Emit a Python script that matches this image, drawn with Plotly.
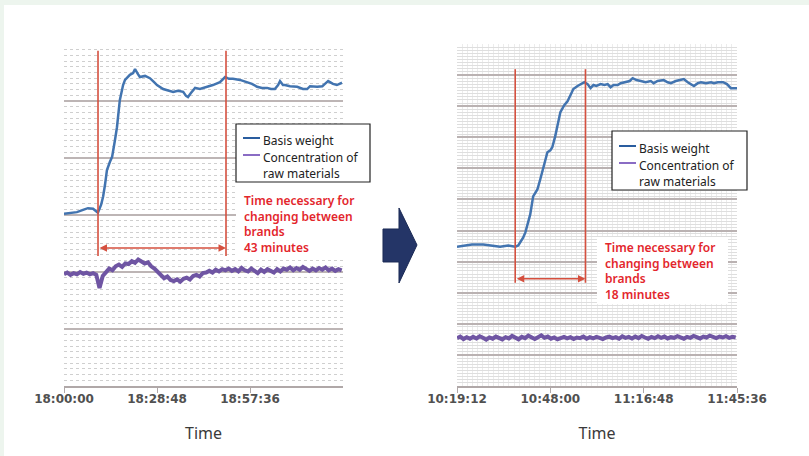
import pandas as pd
import plotly.graph_objects as go

W, H = 809, 456

# --- data ---
# left chart: start 18:00:00, x in minutes after start
left_bw_min = [0.0, 1.9, 4.0, 5.9, 7.4, 9.0, 10.5, 11.5, 12.1, 12.7, 13.3, 14.2, 14.9, 15.8, 16.4,
               17.3, 18.3, 18.9, 20.4, 21.4, 22.0, 22.9, 23.5, 25.1, 26.6, 27.9, 28.8, 30.7, 32.2,
               33.8, 35.3, 36.9, 37.8, 38.4, 39.3, 40.6, 42.1, 44.3, 45.5, 46.1, 48.3, 49.9, 51.1,
               52.3, 54.5, 56.7, 58.2, 59.8, 61.3, 62.9, 64.1, 65.3, 66.3, 66.9, 67.8, 68.4, 70.0,
               72.2, 74.0, 75.3, 76.2, 78.4, 80.0, 80.8, 81.8, 83.3, 84.5, 86.1]
left_bw = [30.2, 30.4, 30.5, 30.9, 31.2, 31.1, 30.4, 31.8, 33.2, 35.3, 37.9, 39.3, 40.2, 43.2, 45.4,
           50.2, 52.8, 53.7, 54.6, 54.9, 55.6, 54.7, 54.2, 54.4, 54.0, 53.3, 52.8, 52.1, 51.8,
           51.6, 51.8, 51.6, 50.9, 50.7, 51.4, 52.3, 52.1, 52.5, 52.6, 52.8, 53.3, 54.2, 53.9,
           53.9, 53.7, 53.3, 53.0, 52.5, 52.3, 52.3, 52.1, 52.1, 52.8, 53.5, 52.8, 52.8, 52.6,
           52.5, 52.1, 52.1, 52.6, 52.5, 52.6, 53.0, 53.5, 53.0, 52.8, 53.2]
# concentration, one value per minute
left_conc = [19.6, 19.9, 19.5, 19.8, 19.6, 20.0, 19.7, 19.9, 19.6, 19.8, 19.5, 17.2, 19.3, 19.9,
             20.6, 20.3, 21.0, 21.3, 20.9, 21.5, 21.4, 21.9, 21.6, 22.2, 21.8, 21.5, 21.7, 21.0,
             20.6, 20.1, 19.4, 18.9, 19.2, 18.6, 18.4, 18.7, 18.3, 18.8, 19.0, 18.7, 19.3, 19.5,
             19.2, 19.8, 19.9, 20.2, 19.9, 20.4, 20.1, 20.5, 20.3, 20.6, 20.2, 20.5, 20.1, 20.7,
             20.3, 20.1, 20.6, 20.2, 19.8, 20.4, 20.0, 20.5, 20.2, 19.9, 20.5, 20.1, 20.6, 20.4,
             20.8, 20.3, 20.7, 20.4, 20.9, 20.5, 20.2, 20.6, 20.3, 20.7, 20.4, 20.8, 20.3, 20.6,
             20.2, 20.5, 20.3]

# right chart: start 10:19:12
right_bw_min = [0.0, 2.5, 4.6, 8.1, 10.2, 13.3, 15.8, 18.0, 18.9, 19.5, 20.4, 21.1, 22.0, 22.6,
                23.5, 24.8, 25.7, 26.3, 27.3, 27.9, 28.8, 29.4, 30.3, 31.3, 31.9, 33.1, 34.1, 35.0,
                35.9, 37.2, 38.1, 39.3, 40.3, 41.2, 42.1, 43.0, 44.3, 45.5, 46.5, 47.4, 48.3, 49.6,
                50.5, 52.0, 53.3, 54.2, 55.4, 56.7, 58.2, 59.8, 60.7, 61.9, 63.8, 65.0, 66.0, 67.5,
                69.1, 70.0, 71.2, 72.2, 73.1, 74.3, 75.3, 76.8, 78.4, 79.3, 80.5, 82.1, 83.3, 84.5,
                85.5, 86.4]
right_bw = [44.8, 45.2, 45.5, 45.5, 45.2, 44.8, 45.2, 44.8, 45.2, 46.1, 47.7, 49.4, 52.9, 55.2,
            61.0, 63.2, 66.5, 68.7, 72.3, 75.2, 75.8, 76.8, 80.3, 85.2, 88.1, 90.3, 91.6, 93.5,
            95.5, 96.5, 97.1, 97.7, 97.1, 95.8, 96.8, 96.5, 97.1, 96.8, 97.1, 96.1, 96.8, 96.8,
            97.4, 97.7, 98.1, 99.0, 98.4, 98.1, 97.7, 98.1, 97.4, 98.1, 98.4, 97.7, 97.4, 98.1,
            98.4, 98.7, 97.7, 97.1, 96.5, 97.4, 97.7, 97.4, 97.7, 97.4, 97.7, 97.7, 97.1, 95.8,
            95.8, 95.8]
right_conc = [15.4, 15.9, 15.1, 15.7, 15.2, 15.8, 15.3, 16.0, 15.5, 14.9, 15.6, 15.2, 15.9, 15.4,
              15.0, 15.7, 15.3, 16.1, 15.5, 15.0, 15.8, 15.4, 16.2, 15.6, 15.1, 15.7, 16.3, 15.5,
              15.9, 15.2, 15.6, 15.0, 15.5, 15.8, 15.3, 15.7, 15.1, 15.6, 15.4, 15.9, 15.2, 15.7,
              15.3, 15.8, 15.5, 15.1, 15.6, 15.9, 15.4, 15.7, 15.2, 16.0, 15.5, 15.8, 15.3, 15.9,
              15.4, 16.1, 15.6, 15.2, 15.8, 15.4, 16.0, 15.5, 15.9, 15.3, 15.7, 15.5, 16.0, 15.6,
              15.2, 15.8, 15.5, 16.1, 15.7, 15.3, 15.9, 15.6, 16.2, 15.7, 15.4, 15.9, 15.6, 16.0,
              15.5, 15.8, 15.6]

left_ticks = ["18:00:00", "18:28:48", "18:57:36"]
right_ticks = ["10:19:12", "10:48:00", "11:16:48", "11:45:36"]
left_change = ["18:10:32", "18:50:10"]   # red markers
right_change = ["10:37:10", "10:58:50"]
left_text = "Time necessary for<br>changing between<br>brands<br>43 minutes"
right_text = "Time necessary for<br>changing between<br>brands<br>18 minutes"

DAY = "2024-01-01 "


def tms(start, mins):
    return pd.Timestamp(DAY + start) + pd.to_timedelta(mins, unit="min")


def px(x):
    return x / W


def py(y):
    return 1 - y / H


BLUE = "#4274b0"
PURPLE = "#6f55a3"
RED = "#d5503f"
TXTRED = "#e3262c"

fig = go.Figure()
fig.add_trace(go.Scatter(x=tms("18:00:00", left_bw_min), y=left_bw, mode="lines",
                         line=dict(color=BLUE, width=2.5), xaxis="x", yaxis="y"))
fig.add_trace(go.Scatter(x=tms("18:00:00", list(range(len(left_conc)))), y=left_conc, mode="lines",
                         line=dict(color=PURPLE, width=4), xaxis="x", yaxis="y"))
fig.add_trace(go.Scatter(x=tms("10:19:12", right_bw_min), y=right_bw, mode="lines",
                         line=dict(color=BLUE, width=2.5), xaxis="x2", yaxis="y2"))
fig.add_trace(go.Scatter(x=tms("10:19:12", list(range(len(right_conc)))), y=right_conc, mode="lines",
                         line=dict(color=PURPLE, width=4), xaxis="x2", yaxis="y2"))

tickfont = dict(family="DejaVu Sans", size=12, color="#505050", weight="bold")
titlefont = dict(family="Noto Sans", size=16, color="#3a3a3a")

fig.update_layout(
    width=W, height=H, margin=dict(l=0, r=0, t=0, b=0, autoexpand=False),
    paper_bgcolor="#edf5ee", plot_bgcolor="white", showlegend=False,
    xaxis=dict(domain=[px(64), px(343)], type="date", automargin=False,
               range=[DAY + "18:00:00", DAY + "19:26:24"],
               tickvals=[DAY + t for t in left_ticks], ticktext=left_ticks, tickfont=tickfont,
               ticks="outside", ticklen=5, tickcolor="#b0a8a8", showline=True, linecolor="#b0a8a8",
               linewidth=2, showgrid=False, zeroline=False, ticklabelstandoff=-4,
               title=dict(text="Time", font=titlefont, standoff=22)),
    yaxis=dict(domain=[py(386), py(44)], range=[0, 60], dtick=10, showticklabels=False,
               automargin=False, gridcolor="#bdb5b5", gridwidth=2, zeroline=False,
               minor=dict(dtick=1, showgrid=True, gridcolor="#cfcfcf", gridwidth=1, griddash="dot")),
    xaxis2=dict(domain=[px(457), px(737)], type="date", automargin=False,
                range=[DAY + "10:19:12", DAY + "11:45:36"],
                tickvals=[DAY + t for t in right_ticks], ticktext=right_ticks, tickfont=tickfont,
                ticks="outside", ticklen=5, tickcolor="#b0a8a8", showline=True, linecolor="#b0a8a8",
                linewidth=2, showgrid=False, zeroline=False, ticklabelstandoff=-4,
                minor=dict(dtick=96000, showgrid=True, gridcolor="#ececec", gridwidth=1),
                title=dict(text="Time", font=titlefont, standoff=22)),
    yaxis2=dict(domain=[py(386), py(44)], range=[0, 110], dtick=10, showticklabels=False,
                anchor="x2", automargin=False, gridcolor="#bab2b2", gridwidth=1.5, zeroline=False,
                minor=dict(dtick=1, showgrid=True, gridcolor="#dedede", gridwidth=1)),
)

shapes = [dict(type="rect", xref="paper", yref="paper", x0=px(4), x1=1, y0=0, y1=py(5),
               fillcolor="white", line_width=0, layer="below")]

# red change markers + arrows
for xa, ya, ch, ytop, ybot, yarr in [("x", "y", left_change, 58.8, 22.8, 24.2),
                                     ("x2", "y2", right_change, 101.9, 33.2, 34.5)]:
    for t in ch:
        shapes.append(dict(type="line", xref=xa, yref=ya, x0=DAY + t, x1=DAY + t, y0=ybot, y1=ytop,
                           line=dict(color=RED, width=1.6)))
    fig.add_annotation(xref=xa, yref=ya, axref=xa, ayref=ya, x=DAY + ch[1], y=yarr,
                       ax=DAY + ch[0], ay=yarr, text="", showarrow=True, arrowside="end+start",
                       arrowhead=2, arrowsize=1, arrowwidth=1.5, arrowcolor=RED)

# white boxes behind legend / red text
for x0, x1, y0, y1, border in [(236, 370, 124, 182, True), (236, 370, 186, 256, False),
                               (612, 747, 131, 190, True), (597, 728, 237, 304, False)]:
    shapes.append(dict(type="rect", xref="paper", yref="paper", x0=px(x0), x1=px(x1),
                       y0=py(y1), y1=py(y0), fillcolor="white", layer="above",
                       line=dict(color="#222222", width=1.2) if border else dict(width=0)))

# legends drawn by hand: short line + label
legfont = dict(family="Noto Sans", size=12, color="#222222")
for lx, ly in [(243, 138), (619, 146)]:
    for dy, col, txt in [(0, "#2a5d9f", "Basis weight"), (17, "#8a6cc4", "Concentration of<br>raw materials")]:
        shapes.append(dict(type="line", xref="paper", yref="paper", x0=px(lx), x1=px(lx + 17),
                           y0=py(ly + dy), y1=py(ly + dy), layer="above",
                           line=dict(color=col, width=2)))
        fig.add_annotation(xref="paper", yref="paper", x=px(lx + 18), y=py(ly + dy - 8.5),
                           xanchor="left", yanchor="top", text=txt, showarrow=False,
                           align="left", font=legfont)

redfont = dict(family="Noto Sans", size=12, color=TXTRED, weight=600)
for tx, ty, txt in [(242, 190, left_text), (603, 237, right_text)]:
    fig.add_annotation(xref="paper", yref="paper", x=px(tx), y=py(ty), xanchor="left",
                       yanchor="top", text=txt, showarrow=False, align="left", font=redfont)

# big arrow between the two charts
pts = [(383, 229), (399, 229), (399, 208), (417, 245), (399, 283), (399, 262), (383, 262)]
path = "M " + " L ".join(f"{px(a):.5f},{py(b):.5f}" for a, b in pts) + " Z"
shapes.append(dict(type="path", xref="paper", yref="paper", path=path,
                   fillcolor="#243567", line=dict(color="#1b2a55", width=1)))

fig.update_layout(shapes=shapes)
# page body has an 8px default margin; drop it so the figure sits at 0,0
fig.write_html("out.html", config={"displayModeBar": False},
               post_script="document.body.style.margin='0';")
